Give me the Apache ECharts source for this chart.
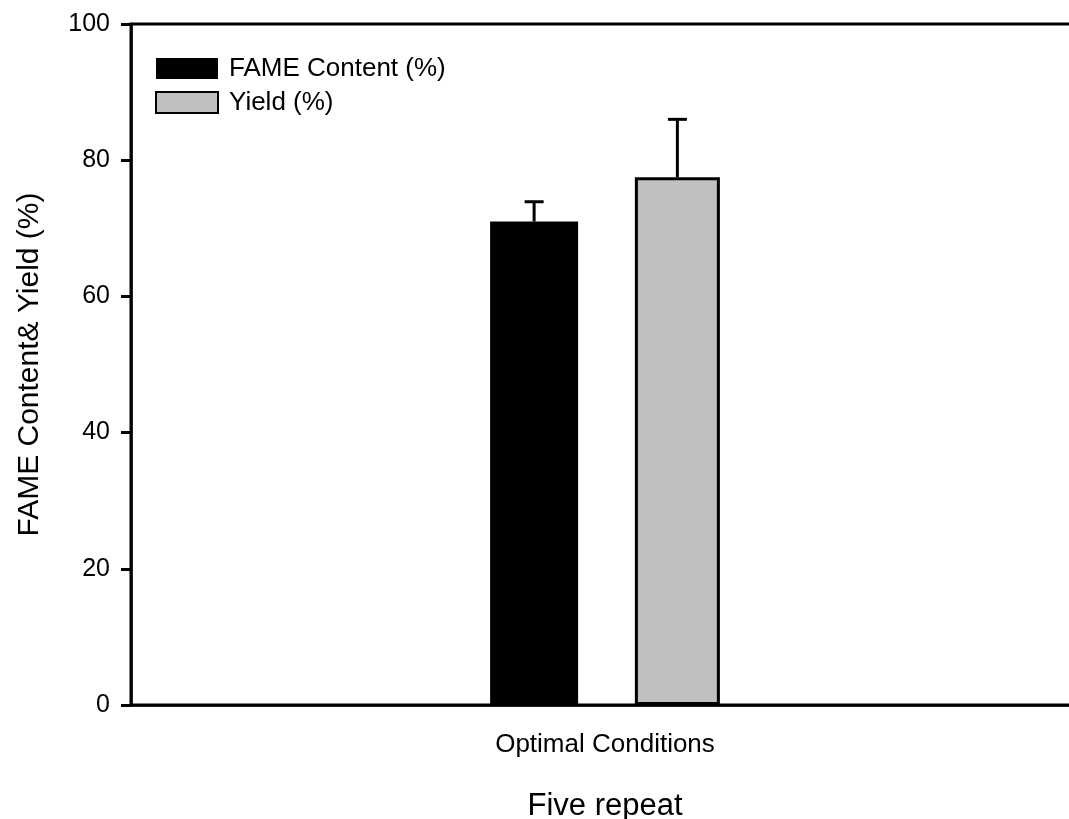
<!DOCTYPE html>
<html>
<head>
<meta charset="utf-8">
<title>FAME Content & Yield</title>
<script src="https://cdn.jsdelivr.net/npm/echarts@6/dist/echarts.min.js"></script>
<style>
  html, body { margin: 0; padding: 0; background: #fff; }
  #chart { width: 1069px; height: 819px; }
</style>
</head>
<body>
<div id="chart"></div>
<script>
// Five repeat runs at the optimal conditions: mean and upper deviation
const categories = ['Optimal Conditions'];
const fameContent = [71.0];
const fameContentErr = [2.9];
const yieldPct = [77.5];
const yieldErr = [8.5];
const yTicks = [0, 20, 40, 60, 80, 100];

const FONT = 'Liberation Sans';
const BAR_W_FAME = 88;
const BAR_W_YIELD = 85;
const BAR_GAP = 0.645;

// Horizontal centre of each bar relative to the category centre,
// following ECharts' own side-by-side bar layout.
const gapPx = BAR_W_FAME * BAR_GAP;
const totalW = BAR_W_FAME + gapPx + BAR_W_YIELD;
const fameOffset = -totalW / 2 + BAR_W_FAME / 2;
const yieldOffset = totalW / 2 - BAR_W_YIELD / 2;

function errorBarSeries(name, means, errs, offset) {
  return {
    type: 'custom',
    name: name + ' err',
    z: 10,
    silent: true,
    data: means.map((m, i) => [i, m, m + errs[i]]),
    renderItem: function (params, api) {
      const base = api.coord([api.value(0), api.value(1)]);
      const top = api.coord([api.value(0), api.value(2)]);
      const x = base[0] + offset;
      const capHalf = 9.5;
      const style = { stroke: '#000', lineWidth: 3 };
      return {
        type: 'group',
        children: [
          { type: 'line', shape: { x1: x, y1: base[1], x2: x, y2: top[1] }, style: style },
          { type: 'line', shape: { x1: x - capHalf, y1: top[1], x2: x + capHalf, y2: top[1] }, style: style }
        ]
      };
    }
  };
}

const chart = echarts.init(document.getElementById('chart'), null, { renderer: 'canvas' });

chart.setOption({
  animation: false,
  backgroundColor: '#fff',
  textStyle: { fontFamily: FONT, color: '#000' },
  grid: {
    left: 131, top: 24, width: 948, height: 681,
    outerBoundsMode: 'none',
    containLabel: false,
    show: true, borderColor: '#000', borderWidth: 3, backgroundColor: 'transparent'
  },
  legend: {
    orient: 'vertical',
    left: 155, top: 55.5,
    padding: 0,
    itemWidth: 62, itemHeight: 21, itemGap: 8,
    icon: 'rect',
    data: ['FAME Content (%)', 'Yield (%)'],
    textStyle: { fontFamily: FONT, fontSize: 26, color: '#000', padding: [0, 0, 0, 6] }
  },
  xAxis: {
    type: 'category',
    data: categories,
    name: 'Five repeat',
    nameLocation: 'middle',
    nameGap: 86,
    nameTextStyle: { fontFamily: FONT, fontSize: 31, color: '#000' },
    axisLine: { lineStyle: { color: '#000', width: 2.5 } },
    axisTick: { alignWithLabel: true, length: 9, lineStyle: { color: '#000', width: 3 } },
    axisLabel: { fontFamily: FONT, fontSize: 26, color: '#000', margin: 27 }
  },
  yAxis: {
    type: 'value',
    min: yTicks[0],
    max: yTicks[yTicks.length - 1],
    interval: yTicks[1] - yTicks[0],
    name: 'FAME Content& Yield (%)',
    nameLocation: 'middle',
    nameGap: 86,
    nameTextStyle: { fontFamily: FONT, fontSize: 30, color: '#000' },
    axisLine: { show: true, lineStyle: { color: '#000', width: 2.5 } },
    axisTick: { show: true, length: 10, lineStyle: { color: '#000', width: 3 } },
    axisLabel: { fontFamily: FONT, fontSize: 25, color: '#000', margin: 21 },
    splitLine: { show: false }
  },
  series: [
    {
      type: 'bar',
      name: 'FAME Content (%)',
      data: fameContent,
      barWidth: BAR_W_FAME,
      barGap: (BAR_GAP * 100) + '%',
      itemStyle: { color: '#000' }
    },
    {
      type: 'bar',
      name: 'Yield (%)',
      data: yieldPct,
      barWidth: BAR_W_YIELD,
      barGap: (BAR_GAP * 100) + '%',
      itemStyle: { color: '#c0c0c0', borderColor: '#000', borderWidth: 3 }
    },
    errorBarSeries('FAME Content (%)', fameContent, fameContentErr, fameOffset),
    errorBarSeries('Yield (%)', yieldPct, yieldErr, yieldOffset)
  ]
});
</script>
</body>
</html>
